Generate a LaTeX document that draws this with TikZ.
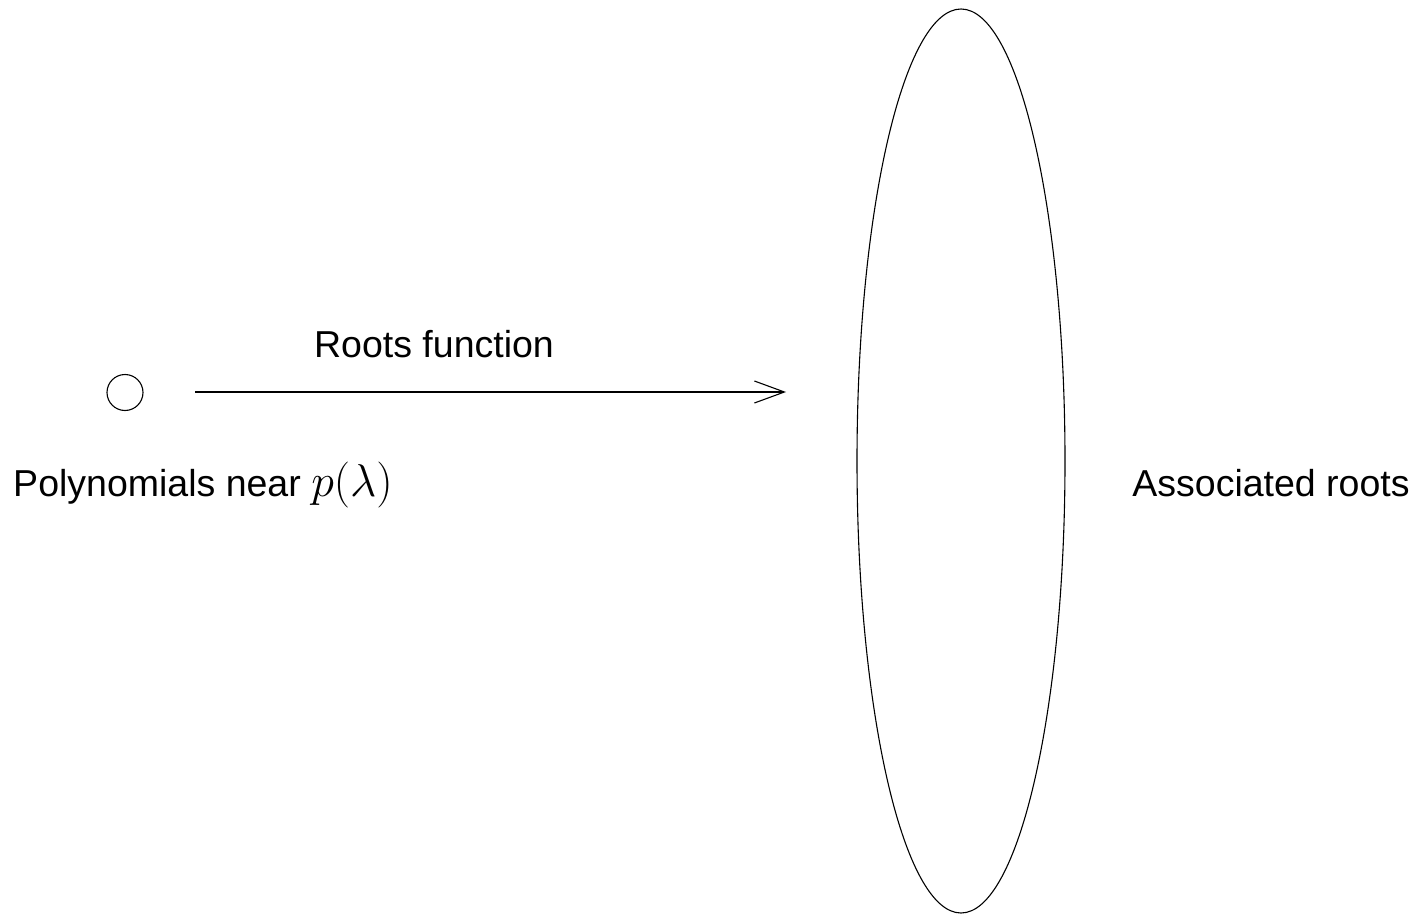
\RequirePackage{fix-cm}
\documentclass[tikz,border=0pt]{standalone}
\usepackage[no-math]{fontspec}
\setmainfont{Liberation Sans}
\usetikzlibrary{shapes.geometric,arrows.meta}
\DeclareMathSizes{23}{23}{16}{12}
\newcommand{\bigmath}[1]{{\fontsize{23}{27}\selectfont$#1$}}
\begin{document}
\begin{tikzpicture}[x=0.5pt,y=-0.5pt,
  every node/.style={font=\fontsize{18.75}{22}\selectfont},
  curve/.style={draw,line width=0.55pt,inner sep=0pt},
  label/.style={anchor=base,inner sep=0pt},
  maparrow/.style={line width=0.55pt,-{Straight Barb[length=15pt,width=11pt,line width=0.55pt]}}]
  % page frame
  \useasboundingbox (0,0) rectangle (1419,915);
  % domain: a small neighbourhood of p
  \node[curve,circle,minimum size=18pt] (dom) at (125,392.5) {};
  \node[label] (domlabel) at (203,496) {Polynomials near \bigmath{p(\lambda)}};
  % image: the set of roots
  \node[curve,ellipse,minimum width=104pt,minimum height=452pt] (img) at (961,461) {};
  \node[label] (imglabel) at (1271,496) {Associated roots};
  % the roots map
  \coordinate (mapstart) at (195,392);
  \coordinate (mapend) at (786,392);
  \draw[maparrow] (mapstart) -- (mapend);
  \node[label] (maplabel) at (434,357) {Roots function};
\end{tikzpicture}
\end{document}
